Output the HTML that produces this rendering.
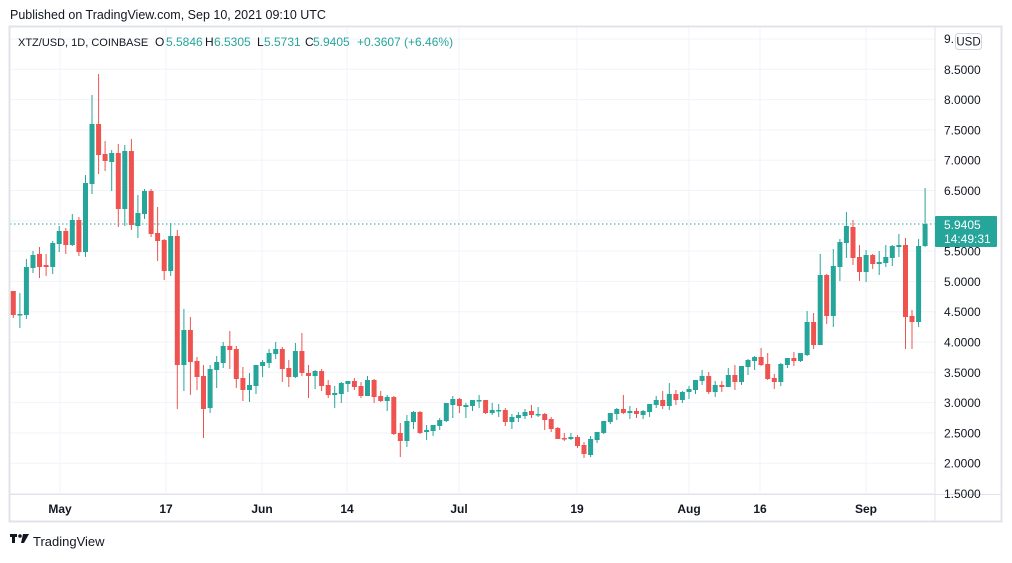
<!DOCTYPE html>
<html><head><meta charset="utf-8"><style>
body{margin:0;background:#fff;width:1012px;height:558px;overflow:hidden;font-family:"Liberation Sans",sans-serif;}
</style></head><body>
<svg id="s" width="1012" height="558" xmlns="http://www.w3.org/2000/svg" font-family="Liberation Sans, sans-serif">
<text x="10" y="19" font-size="12.5" fill="#131722">Published on TradingView.com, Sep 10, 2021 09:10 UTC</text>
<g id="grid" stroke="#f0f3fa" stroke-width="1"></g>
<line x1="10" y1="224" x2="935" y2="224" stroke="#26a69a" stroke-dasharray="1.5,2.5" stroke-width="1"/>
<g id="c"></g>
<rect x="9.5" y="26.5" width="992" height="495" fill="none" stroke="#e0e3eb" stroke-width="2"/>
<line x1="935" y1="27" x2="935" y2="521" stroke="#e0e3eb" stroke-width="1"/>
<line x1="10" y1="494.5" x2="1001" y2="494.5" stroke="#e0e3eb" stroke-width="1"/>
<g font-size="12" fill="#131722">
<text x="18" y="46" font-size="11">XTZ/USD, 1D, COINBASE</text>
<text x="155" y="46">O</text><text x="166" y="46" fill="#26a69a">5.5846</text>
<text x="205" y="46">H</text><text x="214" y="46" fill="#26a69a">6.5305</text>
<text x="257" y="46">L</text><text x="264" y="46" fill="#26a69a">5.5731</text>
<text x="305" y="46">C</text><text x="313" y="46" fill="#26a69a">5.9405</text>
<text x="357" y="46" fill="#26a69a">+0.3607 (+6.46%)</text>
</g>
<g id="ax" font-size="12" fill="#131722"></g>
<rect x="955.5" y="33.5" width="26" height="16" rx="3" fill="#fff" stroke="#d1d4dc"/>
<text x="968.5" y="45.5" font-size="11.5" text-anchor="middle" fill="#131722">USD</text>
<rect x="935" y="216" width="62" height="31" rx="1" fill="#26a69a"/>
<text x="944" y="229" font-size="12" fill="#fff">5.9405</text>
<text x="944" y="243" font-size="12" fill="#fff">14:49:31</text>
<g font-size="12" fill="#131722" font-weight="bold" text-anchor="middle">
<text x="60" y="513">May</text><text x="166" y="513">17</text><text x="262" y="513">Jun</text><text x="347" y="513">14</text><text x="459" y="513">Jul</text><text x="577" y="513">19</text><text x="689" y="513">Aug</text><text x="760" y="513">16</text><text x="866" y="513">Sep</text>
</g>
<g fill="#131722"><rect x="10" y="534" width="7" height="3"/><rect x="12" y="534" width="3" height="9"/><circle cx="20" cy="536" r="1.8"/><path d="M23 534h6l-5 9h-3z"/></g>
<text x="33" y="546" font-size="13" fill="#131722">TradingView</text>
</svg>
<script>
var d=[[291,315,291,318],[314,314,293,328],[315,267,259,319],[268,255,251,273],[254,267,247,278],[265,267,254,276],[267,243,241,274],[244,231,226,252],[231,245,228,254],[245,220,214,246],[220,252,217,256],[252,183,175,257],[184,124,95,194],[124,155,74,174],[154,161,141,171],[162,153,150,191],[153,209,144,227],[209,151,145,226],[151,225,139,230],[226,213,195,238],[214,191,189,219],[191,234,189,237],[233,241,207,261],[240,271,239,280],[271,236,223,276],[236,365,230,409],[365,330,309,391],[330,362,317,395],[361,377,357,390],[376,409,365,438],[408,369,365,413],[370,362,356,388],[363,346,342,368],[346,350,331,369],[349,379,346,388],[378,390,367,401],[390,385,373,402],[386,365,365,394],[366,362,360,377],[363,353,349,368],[354,349,342,359],[349,369,347,382],[368,377,360,387],[377,351,343,378],[351,373,333,376],[373,376,365,398],[376,371,370,389],[371,386,369,391],[385,395,380,398],[395,393,386,408],[394,383,382,403],[384,381,381,392],[381,387,378,390],[386,396,382,398],[396,380,376,396],[380,397,379,403],[396,401,391,402],[401,397,395,411],[397,434,396,435],[433,441,423,457],[441,421,415,447],[422,412,411,429],[412,433,411,434],[432,430,425,440],[431,425,425,436],[426,420,418,430],[421,403,403,422],[405,399,396,418],[399,406,398,413],[407,405,403,418],[406,400,400,411],[401,400,395,408],[400,413,400,414],[413,410,403,415],[410.5,410,404,417],[410,422,408,426],[422,417,414,429],[418,415,412,422],[416,412,409,419],[411,415,405,418],[415,414,407,417],[414,420,413,430],[419,429,417,432],[428,439,427,439],[438,439,433,441],[439,437,433,440],[437,446,435,448],[445,454,442,458],[455,439,436,457],[440,432,432,443],[433,421,421,434],[422,413,413,424],[414,409,408,420],[409,413,395,414],[413,411,406,419],[411,414,408,418],[415,411,410,419],[412,404,404,417],[405,400,396,408],[400,406,391,409],[406,394,383,410],[394,400,390,405],[400,392,391,403],[392,389,386,399],[390,380,380,394],[381,376,370,385],[376,392,372,394],[392,385,381,397],[385,387,381,392],[387,375,368,387],[375,382,365,390],[382,366,366,385],[367,360,359,375],[361,357,356,370],[357,365,348,366],[364,379,353,380],[378,382,374,389],[382,364,363,386],[365,358,358,368],[358,361,352,366],[361,353,353,362],[355,322,311,356],[322,345,313,349],[345,275,254,345],[275,316,274,324],[316,266,249,327],[267,242,239,281],[243,226,212,258],[227,258,220,265],[257,272,245,281],[272,255,250,282],[255,264,254,269],[264,262,251,275],[263,257,245,267],[258,246,245,266],[247,245,234,257],[245,317,238,349],[316,322,310,349],[322,246,239,327],[246,224,188,247]];
var c=document.getElementById('c'),h='';
d.forEach(function(k,i){var x=13.3+i*6.56,o=k[0],cl=k[1],col=cl<o?'#26a69a':(cl>o?'#ef5350':'#26a69a');
var t=Math.min(o,cl),b=Math.max(o,cl);if(b-t<1.5)b=t+1.5;
h+='<line x1="'+x.toFixed(1)+'" x2="'+x.toFixed(1)+'" y1="'+k[2]+'" y2="'+k[3]+'" stroke="'+col+'" stroke-width="1"/>';
h+='<rect x="'+(x-2.5).toFixed(1)+'" y="'+t+'" width="5" height="'+(b-t)+'" fill="'+col+'"/>';});
c.innerHTML=h;
var g='',a='';
for(var p=9;p>=1.5;p-=0.5){var y=39+(9-p)*60.6;g+='<line x1="10" x2="935" y1="'+y.toFixed(1)+'" y2="'+y.toFixed(1)+'"/>';
if(p==9)a+='<text x="944" y="'+(y+4)+'">9.</text>';else if(Math.abs(p-6)>0.01)a+='<text x="944" y="'+(y+4.5).toFixed(1)+'">'+p.toFixed(4)+'</text>';}
[60,166,262,347,459,577,689,760,866].forEach(function(x){g+='<line x1="'+x+'" x2="'+x+'" y1="27" y2="494"/>';});
document.getElementById('grid').innerHTML=g;document.getElementById('ax').innerHTML=a;
</script>
</body></html>
